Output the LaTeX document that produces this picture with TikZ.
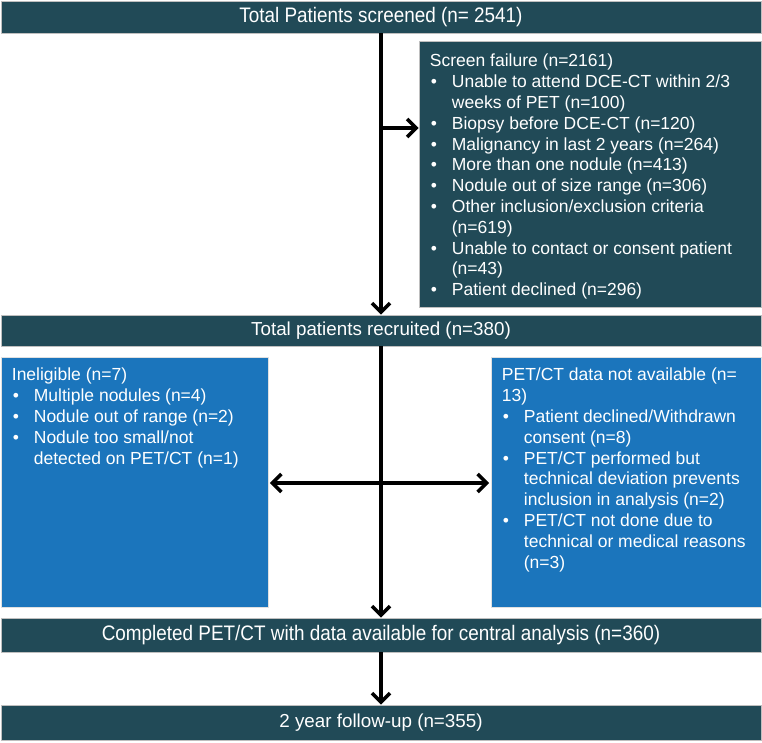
\documentclass[tikz,border=0pt]{standalone}
\usepackage{fontspec}
\setmainfont{Liberation Sans}
\usetikzlibrary{arrows.meta}
\definecolor{darkteal}{RGB}{33,74,87}
\definecolor{boxblue}{RGB}{27,117,188}
\newcommand{\bul}{\hspace*{1pt}•}
\begin{document}
\begin{tikzpicture}[x=1pt,y=-1pt,
  darkbox/.style={fill=darkteal, draw=black!25, line width=0.6pt, text=white, inner sep=0pt},
  bluebox/.style={fill=boxblue, draw=black!12, line width=0.6pt, inner sep=0pt},
  txt/.style={text=white, inner sep=0pt, anchor=north west, align=left, font=\fontsize{17.5}{20.8}\selectfont},
  midfont/.style={font=\fontsize{18.8}{22}\selectfont},
  barb/.tip={Straight Barb[length=9pt,width=18pt]},
  arr/.style={line width=3.6pt, -barb},
  arrtwo/.style={line width=3.6pt, barb-barb}]
\useasboundingbox (0,0) rectangle (762,742);
\fill[white] (0,0) rectangle (762,742);

% boxes
\node[darkbox, minimum width=760pt, minimum height=32pt] (top) at (381,17)
  {\scalebox{0.9}[1]{\fontsize{21}{24}\selectfont Total Patients screened (n= 2541)}};
\node[darkbox, minimum width=342pt, minimum height=266pt] (fail) at (590,174) {};
\node[darkbox, minimum width=760pt, minimum height=31pt, midfont] (recr) at (381,330.5)
  {Total patients recruited (n=380)};
\node[bluebox, minimum width=267pt, minimum height=250pt] (inel) at (134.5,482) {};
\node[bluebox, minimum width=270pt, minimum height=250pt] (petct) at (626,482) {};
\node[darkbox, minimum width=760pt, minimum height=34pt] (comp) at (381,635)
  {\scalebox{0.9}[1]{\fontsize{21}{24}\selectfont Completed PET/CT with data available for central analysis (n=360)}};
\node[darkbox, minimum width=760pt, minimum height=35pt, midfont] (follow) at (381,722.5)
  {2 year follow-up (n=355)};

% box texts
\node[txt] (failtxt) at ([shift={(11pt,-11.5pt)}]fail.north west) {%
\begin{tabular}{@{}p{22pt}@{}l@{}}
\multicolumn{2}{@{}l@{}}{Screen failure (n=2161)}\\
\bul & Unable to attend DCE-CT within 2/3\\
 & weeks of PET (n=100)\\
\bul & Biopsy before DCE-CT (n=120)\\
\bul & Malignancy in last 2 years (n=264)\\
\bul & More than one nodule (n=413)\\
\bul & Nodule out of size range (n=306)\\
\bul & Other inclusion/exclusion criteria\\
 & (n=619)\\
\bul & Unable to contact or consent patient\\
 & (n=43)\\
\bul & Patient declined (n=296)
\end{tabular}};

\node[txt] (ineltxt) at ([shift={(11pt,-9.5pt)}]inel.north west) {%
\begin{tabular}{@{}p{22pt}@{}l@{}}
\multicolumn{2}{@{}l@{}}{Ineligible (n=7)}\\
\bul & Multiple nodules (n=4)\\
\bul & Nodule out of range (n=2)\\
\bul & Nodule too small/not\\
 & detected on PET/CT (n=1)
\end{tabular}};

\node[txt] (pettxt) at ([shift={(11pt,-9.5pt)}]petct.north west) {%
\begin{tabular}{@{}p{22pt}@{}l@{}}
\multicolumn{2}{@{}l@{}}{PET/CT data not available (n=}\\
\multicolumn{2}{@{}l@{}}{13)}\\
\bul & Patient declined/Withdrawn\\
 & consent (n=8)\\
\bul & PET/CT performed but\\
 & technical deviation prevents\\
 & inclusion in analysis (n=2)\\
\bul & PET/CT not done due to\\
 & technical or medical reasons\\
 & (n=3)
\end{tabular}};

% connectors
\coordinate (j1) at (381,128);
\coordinate (j2) at (381,483);
\draw[arr] (top) -- (recr);
\draw[arr] (j1) -- (j1 -| fail.west);
\draw[arr] (recr) -- (comp);
\draw[arrtwo, shorten <=1.5pt, shorten >=1.5pt] (j2 -| inel.east) -- (j2 -| petct.west);
\draw[arr] (comp) -- (follow);
\end{tikzpicture}
\end{document}
